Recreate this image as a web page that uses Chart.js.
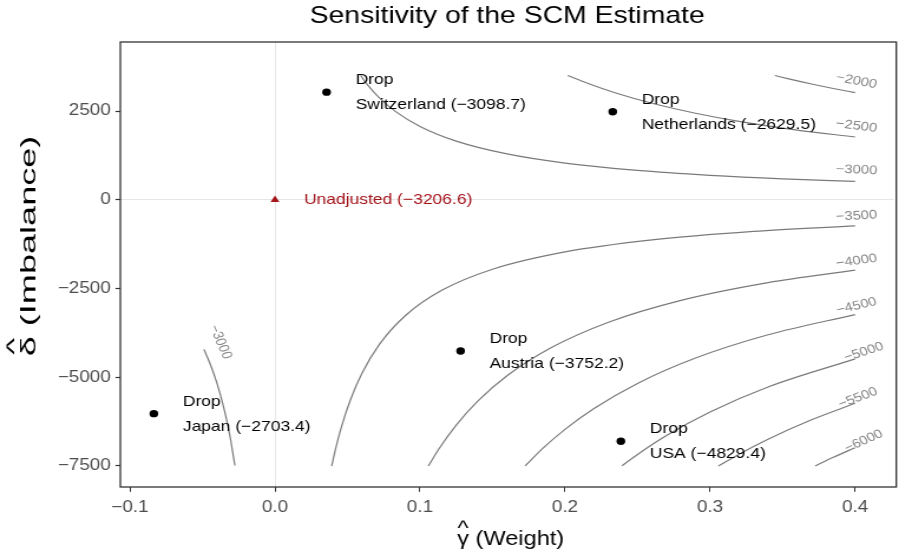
<!DOCTYPE html>
<html>
<head>
<meta charset="utf-8">
<title>Sensitivity of the SCM Estimate</title>
<script src="https://cdn.jsdelivr.net/npm/chart.js@4.4.1/dist/chart.umd.min.js"></script>
<style>
  html, body { margin: 0; padding: 0; background: #fff; overflow: hidden; }
  /* the figure is drawn narrow and widened to the page, like the exported png */
  #wrap { width: 762px; height: 557px; transform: scaleX(1.1798); transform-origin: 0 0; }
</style>
</head>
<body>
<div id="wrap"><canvas id="myChart" width="762" height="557"></canvas></div>
<script>
const FONT = '"Liberation Sans", Arial, Helvetica, sans-serif';

// drop-one-donor estimates
const countries = ['Switzerland', 'Netherlands', 'Austria', 'Japan', 'USA'];
const dropGamma = [0.0356, 0.2329, 0.128, -0.0835, 0.2385];
const dropDelta = [3031, 2478, -4262, -6026, -6804];
const dropEstimate = [-3098.7, -2629.5, -3752.2, -2703.4, -4829.4];

const unadjGamma = [0];
const unadjDelta = [0];
const unadjEstimate = -3206.6;

// contour pieces (estimate level, gamma, delta)
const contourLevels = [-2000, -2500, -3000, -3000, -3500, -4000, -4500, -5000, -5500, -6000];
const contourGamma = [
  [0.3447, 0.355, 0.37, 0.385, 0.4],
  [0.2019, 0.215, 0.235, 0.26, 0.29, 0.32, 0.36, 0.4],
  [0.059, 0.064, 0.072, 0.083, 0.1, 0.125, 0.16, 0.2, 0.25, 0.3, 0.35, 0.4],
  [-0.049, -0.045, -0.04, -0.035, -0.031, -0.0276],
  [0.0391, 0.042, 0.046, 0.052, 0.06, 0.072, 0.09, 0.115, 0.15, 0.2, 0.26, 0.33, 0.4],
  [0.1058, 0.113, 0.125, 0.14, 0.16, 0.19, 0.23, 0.28, 0.34, 0.4],
  [0.1725, 0.185, 0.2, 0.22, 0.25, 0.29, 0.34, 0.4],
  [0.2392, 0.25, 0.27, 0.3, 0.34, 0.4],
  [0.3058, 0.32, 0.34, 0.37, 0.4],
  [0.3725, 0.385, 0.4]
];
const contourDelta = [
  [3500, 3399, 3261, 3134, 3017],
  [3500, 3287, 3007, 2718, 2437, 2208, 1963, 1767],
  [3502, 3228, 2869, 2489, 2066, 1653, 1291, 1033, 826, 689, 590, 517],
  [-4216, -4591, -5165, -5903, -6665, -7486],
  [-7504, -6986, -6378, -5642, -4890, -4075, -3260, -2551, -1956, -1467, -1128, -889, -734],
  [-7499, -7021, -6347, -5667, -4959, -4176, -3450, -2834, -2334, -1984],
  [-7498, -6991, -6467, -5879, -5174, -4460, -3804, -3234],
  [-7498, -7174, -6642, -5978, -5275, -4484],
  [-7500, -7167, -6745, -6198, -5734],
  [-7499, -7256, -6984]
];
// where each piece carries its level label
const labelGamma = [0.401, 0.401, 0.401, -0.0377, 0.401, 0.401, 0.401, 0.406, 0.402, 0.406];
const labelDelta = [3345, 2077, 838, -4007, -458, -1725, -2993, -4289, -5585, -6796];

const xTicks = [-0.1, 0, 0.1, 0.2, 0.3, 0.4];
const yTicks = [-7500, -5000, -2500, 0, 2500];

const minus = s => String(s).replace('-', '\u2212');

const datasets = [
  {
    data: unadjGamma.map((g, i) => ({x: g, y: unadjDelta[i]})),
    pointStyle: 'triangle', pointRadius: 4.3,
    backgroundColor: '#a3141b', borderColor: '#a3141b', borderWidth: 0
  },
  {
    data: dropGamma.map((g, i) => ({x: g, y: dropDelta[i]})),
    pointRadius: 3.7,
    backgroundColor: '#000', borderColor: '#000', borderWidth: 0
  }
];
contourGamma.forEach((gs, k) => {
  datasets.push({
    data: gs.map((g, i) => ({x: g, y: contourDelta[k][i]})),
    showLine: true, pointRadius: 0, borderColor: '#7a7a7a', borderWidth: 1.2,
    cubicInterpolationMode: 'monotone', fill: false
  });
});

// point labels, contour labels, panel frame and axis titles
const annotate = {
  id: 'annotate',
  afterDatasetsDraw(chart) {
    const {ctx, scales: {x, y}} = chart;
    ctx.save();

    ctx.font = '12.5px ' + FONT;
    ctx.fillStyle = '#858585';
    ctx.textAlign = 'center';
    ctx.textBaseline = 'middle';
    contourLevels.forEach((lv, k) => {
      const px = contourGamma[k].map(g => x.getPixelForValue(g));
      const py = contourDelta[k].map(d => y.getPixelForValue(d));
      const lx = x.getPixelForValue(labelGamma[k]);
      const ly = y.getPixelForValue(labelDelta[k]);
      let j = 0, best = Infinity;
      px.forEach((p, i) => {
        const dd = (p - lx) ** 2 + (py[i] - ly) ** 2;
        if (dd < best) { best = dd; j = i; }
      });
      if (j === px.length - 1) j--;
      const ang = Math.atan2(py[j + 1] - py[j], px[j + 1] - px[j]);
      ctx.save();
      ctx.translate(lx, ly);
      ctx.rotate(ang);
      ctx.fillText(minus(lv), 0, 0);
      ctx.restore();
    });

    ctx.font = '14.8px ' + FONT;
    ctx.textAlign = 'left';
    ctx.fillStyle = '#000';
    countries.forEach((c, i) => {
      const lx = x.getPixelForValue(dropGamma[i] + 0.02);
      const py = y.getPixelForValue(dropDelta[i]);
      ctx.fillText('Drop', lx, py - 12);
      ctx.fillText(c + ' (' + minus(dropEstimate[i].toFixed(1)) + ')', lx, py + 13);
    });
    ctx.fillStyle = '#a3141b';
    ctx.fillText('Unadjusted (' + minus(unadjEstimate.toFixed(1)) + ')',
      x.getPixelForValue(unadjGamma[0] + 0.02), y.getPixelForValue(unadjDelta[0]));
    ctx.restore();
  },
  afterDraw(chart) {
    const {ctx, chartArea: a} = chart;
    ctx.save();
    ctx.strokeStyle = '#333333';
    ctx.lineWidth = 1.3;
    ctx.strokeRect(a.left, a.top, a.right - a.left + 2, a.bottom - a.top);

    ctx.fillStyle = '#000';
    drawHatTitle(ctx, '\u03b3', ' (Weight)', (a.left + a.right) / 2 + 3, 538, 20, 0.5);
    // the y title runs long in this figure
    ctx.translate(23, 246);
    ctx.rotate(-Math.PI / 2);
    ctx.scale(1.9, 1);
    drawHatTitle(ctx, '\u03b4', ' (Imbalance)', 0, 0, 19, 0.62);
    ctx.restore();
  }
};

// greek letter with a hat on top, followed by the rest of the title
function drawHatTitle(ctx, greek, rest, cx, cy, size, lift) {
  ctx.font = size + 'px ' + FONT;
  const wg = ctx.measureText(greek).width;
  const wr = ctx.measureText(rest).width;
  const x0 = cx - (wg + wr) / 2;
  const base = cy + size * 0.35;
  ctx.textAlign = 'left';
  ctx.textBaseline = 'alphabetic';
  ctx.fillText(greek, x0, base);
  ctx.fillText(rest, x0 + wg, base);
  ctx.textAlign = 'center';
  ctx.fillText('^', x0 + wg / 2, base - size * lift);
}

const zeroLine = c => (c.tick && c.tick.value === 0) ? '#e6e6e6' : 'rgba(0,0,0,0)';

new Chart(document.getElementById('myChart'), {
  type: 'scatter',
  data: { datasets },
  plugins: [annotate],
  options: {
    responsive: false,
    animation: false,
    events: [],
    layout: { padding: 0 },
    plugins: {
      legend: { display: false },
      tooltip: { enabled: false },
      title: {
        display: true,
        text: 'Sensitivity of the SCM Estimate',
        color: '#000',
        fullSize: false,
        font: { family: FONT, size: 24, weight: 'normal' },
        padding: { top: 2, bottom: 11.2 }
      }
    },
    scales: {
      x: {
        type: 'linear',
        min: -0.1066, max: 0.4268,
        afterBuildTicks: s => { s.ticks = xTicks.map(v => ({value: v})); },
        afterFit: s => { s.height = 70; },
        border: { display: false },
        grid: { color: zeroLine, lineWidth: 1, tickColor: '#333333', tickLength: 4.8, tickWidth: 1 },
        ticks: {
          color: '#4d4d4d', padding: 6.5, maxRotation: 0,
          font: { family: FONT, size: 16 },
          callback: v => minus(v.toFixed(1))
        }
      },
      y: {
        type: 'linear',
        min: -8092, max: 4444,
        afterBuildTicks: s => { s.ticks = yTicks.map(v => ({value: v})); },
        afterFit: s => { s.width = 102; },
        border: { display: false },
        grid: { color: zeroLine, lineWidth: 1, tickColor: '#333333', tickLength: 4.1, tickWidth: 1.2 },
        ticks: {
          color: '#4d4d4d', padding: 4,
          font: { family: FONT, size: 16 },
          callback: v => minus(v)
        }
      }
    }
  }
});
</script>
</body>
</html>
